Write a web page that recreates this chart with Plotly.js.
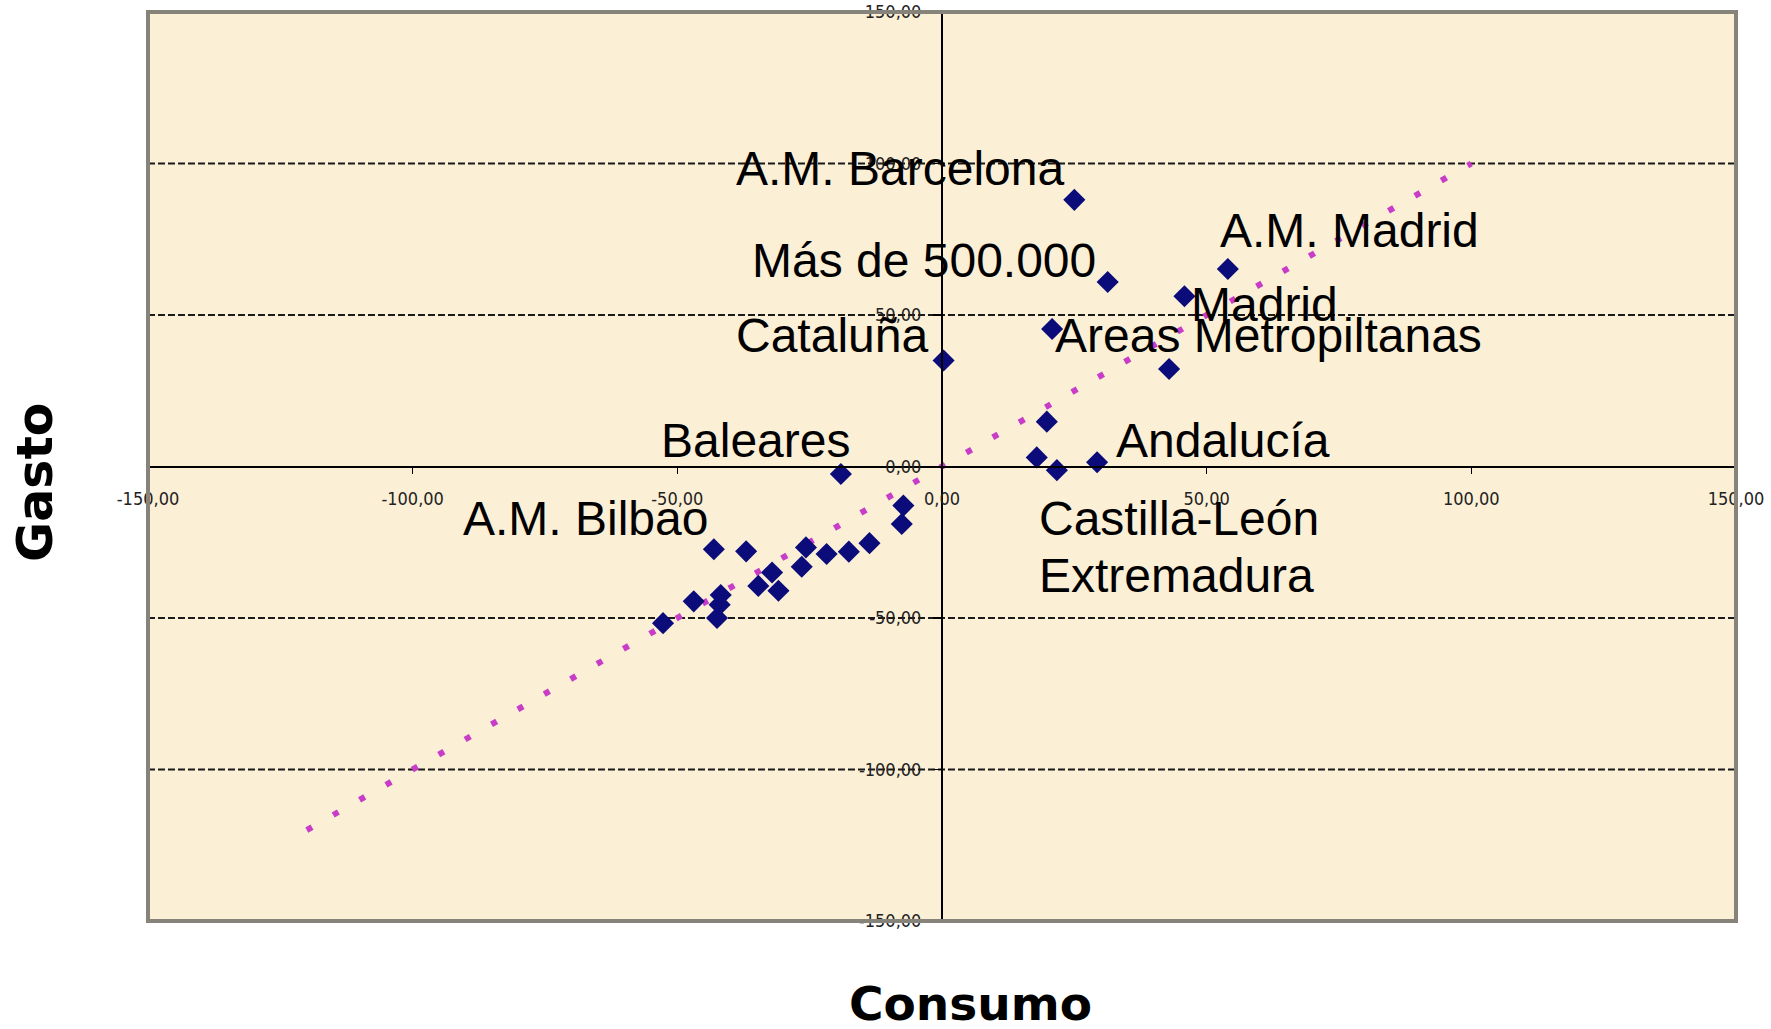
<!DOCTYPE html>
<html>
<head>
<meta charset="utf-8">
<script src="https://cdn.plot.ly/plotly-3.0.1.min.js"></script>
<style>html,body{margin:0;padding:0;background:#fff;}#chart{width:1771px;height:1029px;}</style>
</head>
<body>
<div id="chart"></div>
<script>
// Data: Consumo (x) vs Gasto (y)
const consumo = [25.0, 31.3, 54.0, 45.8, 20.8, 0.3, 42.9, 19.8, 17.9, 21.7, 29.3,
  -19.1, -7.3, -7.6, -13.7, -17.6, -21.8, -25.7, -26.5, -30.9, -32.1, -34.7, -37.0,
  -43.1, -41.8, -42.0, -42.5, -46.9, -52.7];
const gasto = [88.0, 60.9, 65.2, 56.2, 45.4, 35.0, 32.2, 14.8, 3.0, -1.2, 1.4,
  -2.5, -12.9, -19.0, -25.3, -28.1, -28.9, -26.7, -33.1, -41.0, -35.0, -39.4, -28.0,
  -27.3, -42.4, -45.6, -50.0, -44.5, -51.7];

// Reference line (y = x) endpoints
const trendX = [-120, 100];
const trendY = [-120, 100];

// Tick labels
const tickVals = [-150, -100, -50, 0, 50, 100, 150];
const tickText = ['-150,00', '-100,00', '-50,00', '0,00', '50,00', '100,00', '150,00'];
const gridVals = [-100, -50, 50, 100];

// Point labels
const labelText = ['A.M. Barcelona', 'Más de 500.000', 'A.M. Madrid', 'Madrid', 'Cataluña',
  'Areas Metropiltanas', 'Baleares', 'Andalucía', 'A.M. Bilbao', 'Castilla-León', 'Extremadura'];
const labelX = [-39.3, -36.3, 52.2, 46.6, -39.3, 20.9, -53.5, 32.4, -90.9, 18.0, 18.0];
const labelY = [98.2, 68.1, 78.0, 53.6, 43.3, 43.3, 8.6, 8.6, -17.1, -17.1, -36.0];

const tickFont = {family: '"Liberation Sans Narrow", "Arial Narrow", "DejaVu Sans Condensed", sans-serif', size: 18, color: '#222'};

const traces = [
  {
    x: trendX, y: trendY, type: 'scatter', mode: 'lines',
    line: {color: '#c83cc8', width: 6, dash: '6px,24.4px'},
    hoverinfo: 'skip', showlegend: false
  },
  {
    x: consumo, y: gasto, type: 'scatter', mode: 'markers',
    marker: {symbol: 'diamond', size: 17, color: '#0b0b7a', line: {width: 0}},
    showlegend: false
  }
];

const annotations = labelText.map((t, i) => ({
  text: t, x: labelX[i], y: labelY[i], xref: 'x', yref: 'y',
  xanchor: 'left', yanchor: 'middle', showarrow: false,
  font: {family: '"Liberation Sans", Arial, sans-serif', size: 48, color: '#000'}
}));
annotations.push({
  text: 'Gasto', textangle: -90, xref: 'paper', yref: 'paper', x: -0.0705, y: 0.483,
  xanchor: 'center', yanchor: 'middle', showarrow: false,
  font: {family: '"DejaVu Sans", Verdana, sans-serif', size: 49, color: '#000', weight: 'bold'}
});
annotations.push({
  text: 'Consumo', xref: 'paper', yref: 'paper', x: 0.518, y: -0.091,
  xanchor: 'center', yanchor: 'middle', showarrow: false,
  font: {family: '"DejaVu Sans", Verdana, sans-serif', size: 47, color: '#000', weight: 'bold'}
});

const shapes = gridVals.map(v => ({
  type: 'line', xref: 'paper', yref: 'y', x0: 0, x1: 1, y0: v, y1: v, layer: 'below',
  line: {color: '#1a1a1a', width: 2, dash: '7px,3px'}
}));
shapes.push({
  type: 'rect', xref: 'paper', yref: 'paper', x0: 0, y0: 0, x1: 1, y1: 1,
  line: {color: '#86837b', width: 4}, layer: 'above'
});

const layout = {
  width: 1771, height: 1029,
  margin: {l: 148, r: 35, t: 12, b: 108},
  paper_bgcolor: '#ffffff',
  plot_bgcolor: '#fbefd6',
  showlegend: false,
  xaxis: {
    range: [-150, 150], anchor: 'free', position: 0.5,
    showgrid: false, zeroline: false,
    showline: true, linecolor: '#000', linewidth: 2,
    ticks: 'outside', ticklen: 6, tickwidth: 1.5, tickcolor: '#000',
    tickvals: tickVals, ticktext: tickText, tickfont: tickFont,
    ticklabelstandoff: 10
  },
  yaxis: {
    range: [-150, 150], anchor: 'free', position: 0.5,
    showgrid: false, zeroline: false,
    showline: true, linecolor: '#000', linewidth: 2,
    ticks: 'outside', ticklen: 8, tickwidth: 1.5, tickcolor: '#000',
    tickvals: tickVals, ticktext: tickText, tickfont: tickFont,
    ticklabelstandoff: 8
  },
  annotations: annotations,
  shapes: shapes
};

Plotly.newPlot('chart', traces, layout, {displayModeBar: false, staticPlot: true});
</script>
</body>
</html>
